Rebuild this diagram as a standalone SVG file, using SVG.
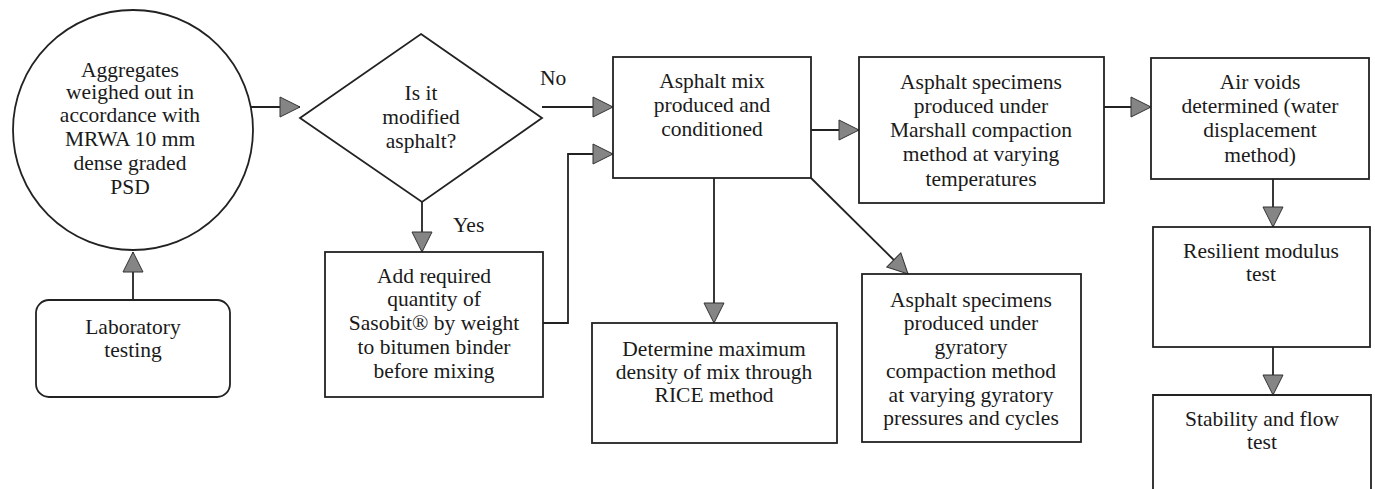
<svg xmlns="http://www.w3.org/2000/svg" width="1375" height="489" viewBox="0 0 1375 489">
<style>
.shape{fill:#fff;stroke:#222;stroke-width:1.8}
.edge{fill:none;stroke:#222;stroke-width:1.8}
text{font-family:'Liberation Serif','Tinos','Times New Roman','DejaVu Serif',serif;font-size:21.5px;fill:#1a1a1a;text-anchor:middle}
.lbl{text-anchor:start}
</style>
<defs>
<marker id="ah" markerUnits="userSpaceOnUse" markerWidth="22" markerHeight="22" refX="20" refY="10" orient="auto" overflow="visible">
<path d="M0,0 L20,10 L0,20 Z" fill="#858585" stroke="#333" stroke-width="1"/>
</marker>
</defs>
<rect width="1375" height="489" fill="#fff"/>
<g id="connectors" font-family="Liberation Serif, DejaVu Serif, serif">
<line class="edge" x1="250" y1="107" x2="300" y2="107" marker-end="url(#ah)"/>
<line class="edge" x1="133" y1="300" x2="133" y2="252" marker-end="url(#ah)"/>
<line class="edge" x1="422" y1="202" x2="422" y2="252" marker-end="url(#ah)"/>
<line class="edge" x1="542" y1="107" x2="613" y2="107" marker-end="url(#ah)"/>
<polyline class="edge" points="543,323 568,323 568,154 613,154" marker-end="url(#ah)"/>
<line class="edge" x1="811" y1="130" x2="859" y2="130" marker-end="url(#ah)"/>
<line class="edge" x1="714" y1="178" x2="714" y2="323" marker-end="url(#ah)"/>
<line class="edge" x1="811" y1="178" x2="908" y2="274" marker-end="url(#ah)"/>
<line class="edge" x1="1104" y1="107" x2="1151" y2="107" marker-end="url(#ah)"/>
<line class="edge" x1="1273" y1="179" x2="1273" y2="227" marker-end="url(#ah)"/>
<line class="edge" x1="1273" y1="347" x2="1273" y2="395" marker-end="url(#ah)"/>
<text class="lbl" x="540" y="85">No</text>
<text class="lbl" x="453" y="232">Yes</text>
</g>
<g id="aggregates">
<circle class="shape" cx="133" cy="130" r="120"/>
<text x="130" y="76.5">Aggregates</text>
<text x="130" y="99">weighed out in</text>
<text x="130" y="122">accordance with</text>
<text x="130" y="146">MRWA 10 mm</text>
<text x="130" y="170">dense graded</text>
<text x="130" y="194">PSD</text>
</g>
<g id="lab">
<rect class="shape" x="36" y="300" width="194" height="97" rx="13"/>
<text x="133" y="334">Laboratory</text>
<text x="133" y="357">testing</text>
</g>
<g id="decision">
<polygon class="shape" points="421,34 542,118 422,202 300,118"/>
<text x="421" y="100">Is it</text>
<text x="421" y="124">modified</text>
<text x="421" y="148">asphalt?</text>
</g>
<g id="sasobit">
<rect class="shape" x="325" y="252" width="218" height="145"/>
<text x="434" y="283">Add required</text>
<text x="434" y="306">quantity of</text>
<text x="434" y="330">Sasobit® by weight</text>
<text x="434" y="354">to bitumen binder</text>
<text x="434" y="378">before mixing</text>
</g>
<g id="mix">
<rect class="shape" x="613" y="57" width="198" height="121"/>
<text x="712" y="88">Asphalt mix</text>
<text x="712" y="112">produced and</text>
<text x="712" y="136">conditioned</text>
</g>
<g id="marshall">
<rect class="shape" x="859" y="57" width="245" height="146"/>
<text x="981" y="89">Asphalt specimens</text>
<text x="981" y="113">produced under</text>
<text x="981" y="137">Marshall compaction</text>
<text x="981" y="161">method at varying</text>
<text x="981" y="186">temperatures</text>
</g>
<g id="rice">
<rect class="shape" x="592" y="323" width="245" height="120"/>
<text x="714" y="356">Determine maximum</text>
<text x="714" y="379">density of mix through</text>
<text x="714" y="402">RICE method</text>
</g>
<g id="gyratory">
<rect class="shape" x="862" y="274" width="219" height="168"/>
<text x="971" y="307">Asphalt specimens</text>
<text x="971" y="330">produced under</text>
<text x="971" y="354">gyratory</text>
<text x="971" y="378">compaction method</text>
<text x="971" y="402">at varying gyratory</text>
<text x="971" y="425">pressures and cycles</text>
</g>
<g id="airvoids">
<rect class="shape" x="1151" y="58" width="218" height="121"/>
<text x="1260" y="89">Air voids</text>
<text x="1260" y="113">determined (water</text>
<text x="1260" y="137">displacement</text>
<text x="1260" y="162">method)</text>
</g>
<g id="resilient">
<rect class="shape" x="1153" y="227" width="217" height="120"/>
<text x="1261" y="258">Resilient modulus</text>
<text x="1261" y="281">test</text>
</g>
<g id="stability">
<path class="shape" d="M1153,489 L1153,395 L1371,395 L1371,489"/>
<text x="1262" y="426">Stability and flow</text>
<text x="1262" y="449">test</text>
</g>
</svg>
